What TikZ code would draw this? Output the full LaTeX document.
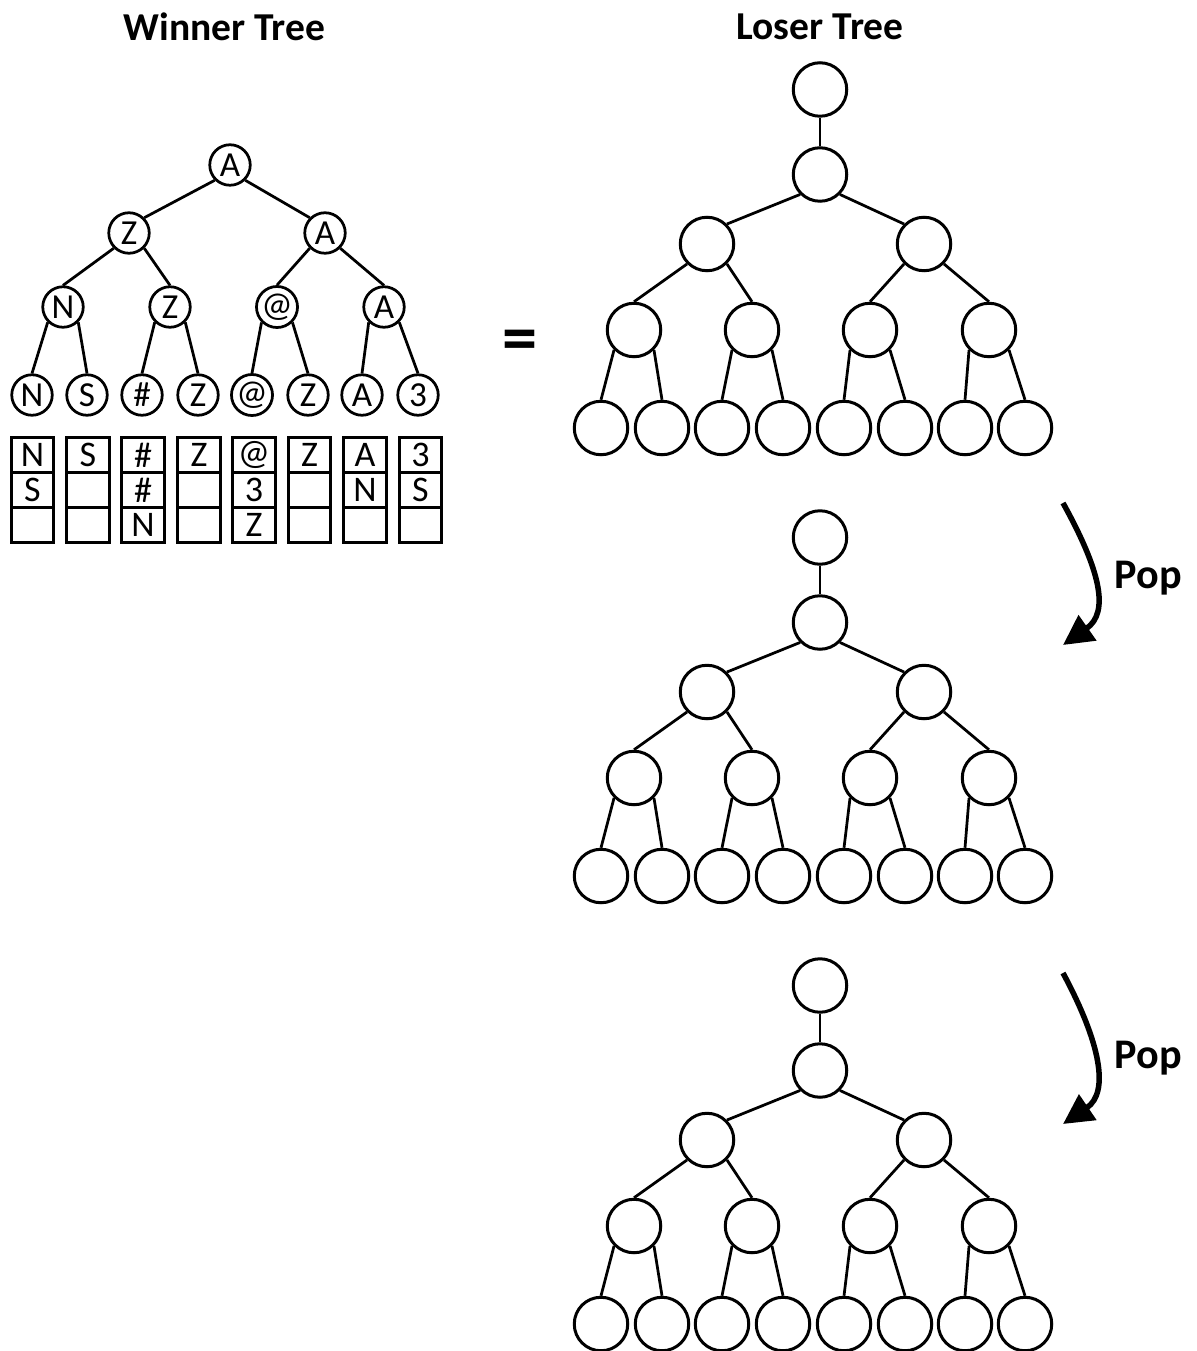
\documentclass[tikz,border=0pt]{standalone}
\usepackage{fontspec}
\setmainfont{Carlito}
\usetikzlibrary{arrows.meta}
\tikzset{
  wnode/.style={circle,draw,line width=0.055cm,minimum size=0.81cm,inner sep=0pt,font=\fontsize{20}{22}\selectfont},
  lnode/.style={circle,draw,line width=0.06cm,minimum size=1.07cm,inner sep=0pt},
  cell/.style={rectangle,draw,line width=0.055cm,minimum width=0.85cm,minimum height=0.7cm,inner sep=0pt,font=\fontsize{20.5}{22}\selectfont},
  edge/.style={line width=0.055cm},
  title/.style={font=\bfseries\fontsize{22.5}{25}\selectfont},
  poplabel/.style={font=\bfseries\fontsize{24}{28}\selectfont},
  poparrow/.style={line width=0.11cm,-{Triangle[length=0.6cm,width=0.6cm]}}
}
\begin{document}
\begin{tikzpicture}[x=0.02cm,y=-0.02cm]
\useasboundingbox (0,0) rectangle (1196,1351);
% titles
\node[title] (t1) at (224.5,27) {Winner Tree};
\node[title] (t2) at (820,27) {Loser Tree};
% winner tree
\node[wnode] (wr) at (230,165) {A};
\node[wnode] (wa) at (129,233) {Z};
\node[wnode] (wb) at (325,233) {A};
\node[wnode] (wc) at (63,307) {N};
\node[wnode] (wd) at (170,307) {Z};
\node[wnode] (we) at (277,307) {@};
\node[wnode] (wf) at (384,307) {A};
\node[wnode] (w1) at (32,395) {N};
\node[wnode] (w2) at (87,395) {S};
\node[wnode] (w3) at (142,395) {\#};
\node[wnode] (w4) at (198,395) {Z};
\node[wnode] (w5) at (252,395) {@};
\node[wnode] (w6) at (308,395) {Z};
\node[wnode] (w7) at (362,395) {A};
\node[wnode] (w8) at (418,395) {3};
\draw[edge] (wr.south west) -- (wa.north east);
\draw[edge] (wr.south east) -- (wb.north west);
\draw[edge] (wa.south west) -- (wc.north);
\draw[edge] (wa.south east) -- (wd.north);
\draw[edge] (wb.south west) -- (we.north);
\draw[edge] (wb.south east) -- (wf.north);
\draw[edge] (wc.south west) -- (w1.north);
\draw[edge] (wc.south east) -- (w2.north);
\draw[edge] (wd.south west) -- (w3.north);
\draw[edge] (wd.south east) -- (w4.north);
\draw[edge] (we.south west) -- (w5.north);
\draw[edge] (we.south east) -- (w6.north);
\draw[edge] (wf.south west) -- (w7.north);
\draw[edge] (wf.south east) -- (w8.north);
% table
\foreach \c/\x/\ra/\rb/\rc in {1/32.5/N/S/{},2/88/S/{}/{},3/143/\#/\#/N,4/199/Z/{}/{},5/254/@/3/Z,6/309.5/Z/{}/{},7/365/A/N/{},8/420.5/3/S/{}}{
  \node[cell] (c\c a) at (\x,455) {\ra};
  \node[cell] (c\c b) at (\x,490) {\rb};
  \node[cell] (c\c c) at (\x,525) {\rc};
}
% equals sign
\node[font=\bfseries\fontsize{40}{44}\selectfont] (eq) at (519.5,345.5) {=};
% loser trees
\foreach \k/\dy in {1/0,2/448,3/896}{
  \node[lnode] (l\k-t) at (820,89.5+\dy) {};
  \node[lnode] (l\k-r) at (820,174.5+\dy) {};
  \node[lnode] (l\k-a) at (707,244+\dy) {};
  \node[lnode] (l\k-b) at (924,244+\dy) {};
  \node[lnode] (l\k-c) at (634,330+\dy) {};
  \node[lnode] (l\k-d) at (752,330+\dy) {};
  \node[lnode] (l\k-e) at (870,330+\dy) {};
  \node[lnode] (l\k-f) at (989,330+\dy) {};
  \node[lnode] (l\k-1) at (601,428+\dy) {};
  \node[lnode] (l\k-2) at (662,428+\dy) {};
  \node[lnode] (l\k-3) at (722,428+\dy) {};
  \node[lnode] (l\k-4) at (783,428+\dy) {};
  \node[lnode] (l\k-5) at (844,428+\dy) {};
  \node[lnode] (l\k-6) at (905,428+\dy) {};
  \node[lnode] (l\k-7) at (965,428+\dy) {};
  \node[lnode] (l\k-8) at (1025,428+\dy) {};
  \draw[edge] (l\k-t) -- (l\k-r);
  \draw[edge] (l\k-r.south west) -- (l\k-a.north east);
  \draw[edge] (l\k-r.south east) -- (l\k-b.north west);
  \draw[edge] (l\k-a.south west) -- (l\k-c.north);
  \draw[edge] (l\k-a.south east) -- (l\k-d.north);
  \draw[edge] (l\k-b.south west) -- (l\k-e.north);
  \draw[edge] (l\k-b.south east) -- (l\k-f.north);
  \draw[edge] (l\k-c.south west) -- (l\k-1.north);
  \draw[edge] (l\k-c.south east) -- (l\k-2.north);
  \draw[edge] (l\k-d.south west) -- (l\k-3.north);
  \draw[edge] (l\k-d.south east) -- (l\k-4.north);
  \draw[edge] (l\k-e.south west) -- (l\k-5.north);
  \draw[edge] (l\k-e.south east) -- (l\k-6.north);
  \draw[edge] (l\k-f.south west) -- (l\k-7.north);
  \draw[edge] (l\k-f.south east) -- (l\k-8.north);
}
% pop arrows
\coordinate (p1s) at (1063,503);
\coordinate (p1e) at (1063,645);
\draw[poparrow] (p1s) .. controls (1100,570) and (1110,612) .. (p1e);
\node[poplabel] (pop1) at (1148.5,578) {Pop};
\coordinate (p2s) at (1063,973);
\coordinate (p2e) at (1063,1124);
\draw[poparrow] (p2s) .. controls (1100,1042) and (1110,1092) .. (p2e);
\node[poplabel] (pop2) at (1148.5,1058) {Pop};
\end{tikzpicture}
\end{document}
